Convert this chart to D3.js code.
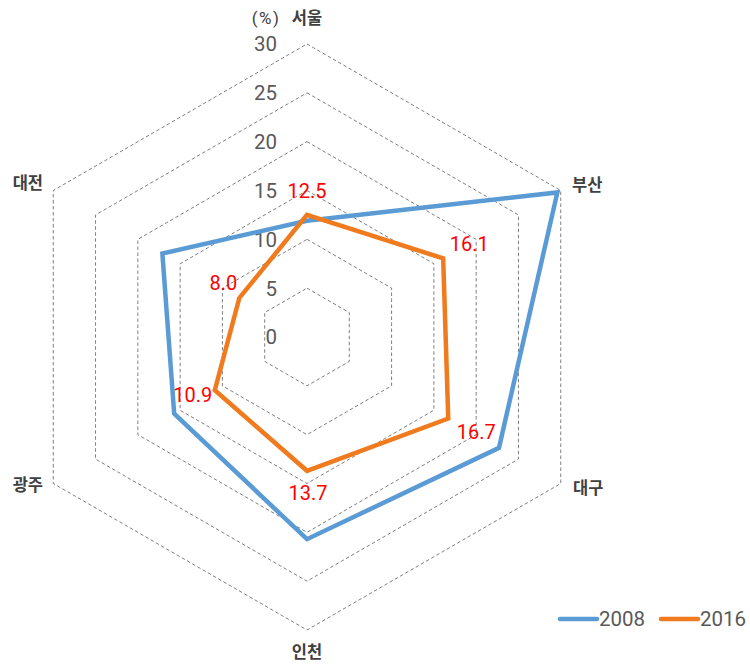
<!DOCTYPE html>
<html><head><meta charset="utf-8">
<script src="https://cdn.jsdelivr.net/npm/d3@7"></script>
<style>
html,body{margin:0;padding:0;background:#fff;}
svg{display:block;}
</style></head>
<body>
<svg id="chart" width="750" height="666"></svg>
<script>
const categories = ["서울", "부산", "대구", "인천", "광주", "대전"];
const seriesNames = ["2008", "2016"];
const values2008 = [11.9, 29.6, 22.7, 20.7, 15.7, 17.1];
const values2016 = [12.5, 16.1, 16.7, 13.7, 10.9, 8.0];
const tickValues = [0, 5, 10, 15, 20, 25, 30];
const unitLabel = "(%)";

const colors = ["#5B9BD5", "#F07A1E"];
const labelOffsets = [[0, -24], [26, -15], [28, 13], [1, 22], [-22, 5], [-16, -15]];

const W = 750, H = 666;
const cx = 307, cy = 337, R = 293;
const svg = d3.select("#chart");

const r = d3.scaleLinear().domain([0, 30]).range([0, R]);
const ang = d3.scalePoint().domain(categories).range([0, 2 * Math.PI * (categories.length - 1) / categories.length]);

function pt(cat, v) {
  const a = ang(cat);
  return [cx + r(v) * Math.sin(a), cy - r(v) * Math.cos(a)];
}

// grid hexagons
const g = svg.append("g");
tickValues.filter(t => t > 0).forEach(t => {
  const pts = categories.map(c => pt(c, t));
  g.append("path")
    .attr("d", d3.line()(pts) + "Z")
    .attr("fill", "none")
    .attr("stroke", "#7f7f7f")
    .attr("stroke-width", 1)
    .attr("stroke-dasharray", "3.5,2.5");
});

// tick labels
g.selectAll("text.tick").data(tickValues).join("text")
  .attr("class", "tick")
  .attr("x", cx - 30)
  .attr("y", d => cy - r(d))
  .attr("dy", "0.36em")
  .attr("text-anchor", "end")
  .attr("font-family", "Roboto, 'Noto Sans', sans-serif")
  .attr("font-size", 20.5)
  .attr("fill", "#595959")
  .text(d => d);

g.append("text")
  .attr("x", 266).attr("y", 18).attr("dy", "0.36em")
  .attr("text-anchor", "middle")
  .attr("font-family", "Roboto, 'Noto Sans', sans-serif")
  .attr("font-size", 17)
  .attr("letter-spacing", 1.5)
  .attr("fill", "#404040")
  .text(unitLabel);

// category labels
const catPos = [
  {x: cx, y: 18, anchor: "middle"},
  {x: 572, y: 185, anchor: "start"},
  {x: 573, y: 488, anchor: "start"},
  {x: cx, y: 652, anchor: "middle"},
  {x: 43, y: 485, anchor: "end"},
  {x: 43, y: 183, anchor: "end"}
];
g.selectAll("text.cat").data(categories).join("text")
  .attr("class", "cat")
  .attr("x", (d, i) => catPos[i].x)
  .attr("y", (d, i) => catPos[i].y)
  .attr("dy", "0.36em")
  .attr("text-anchor", (d, i) => catPos[i].anchor)
  .attr("font-family", "'Noto Sans CJK KR', sans-serif")
  .attr("font-weight", "bold")
  .attr("font-size", 16.5)
  .attr("fill", "#404040")
  .text(d => d);

// series
const allSeries = [values2008, values2016];
allSeries.forEach((vals, si) => {
  const pts = categories.map((c, i) => pt(c, vals[i]));
  svg.append("path")
    .attr("d", d3.line()(pts) + "Z")
    .attr("fill", "none")
    .attr("stroke", colors[si])
    .attr("stroke-width", 4.5)
    .attr("stroke-linejoin", "miter");
});

// data labels for 2016
svg.selectAll("text.dl").data(values2016).join("text")
  .attr("class", "dl")
  .attr("x", (d, i) => pt(categories[i], d)[0] + labelOffsets[i][0])
  .attr("y", (d, i) => pt(categories[i], d)[1] + labelOffsets[i][1])
  .attr("dy", "0.36em")
  .attr("text-anchor", "middle")
  .attr("font-family", "Roboto, 'Noto Sans', sans-serif")
  .attr("font-size", 20)
  .attr("fill", "#FF0000")
  .text(d => d.toFixed(1));

// legend
const leg = svg.append("g");
const legX = [560, 661];
seriesNames.forEach((s, i) => {
  leg.append("line")
    .attr("x1", legX[i]).attr("x2", legX[i] + 37)
    .attr("y1", 619).attr("y2", 619)
    .attr("stroke", colors[i]).attr("stroke-width", 4.5)
    .attr("stroke-linecap", "round");
  leg.append("text")
    .attr("x", legX[i] + 39).attr("y", 619).attr("dy", "0.36em")
    .attr("font-family", "Roboto, 'Noto Sans', sans-serif")
    .attr("font-size", 20.5)
    .attr("fill", "#595959")
    .text(s);
});
</script>
</body></html>
